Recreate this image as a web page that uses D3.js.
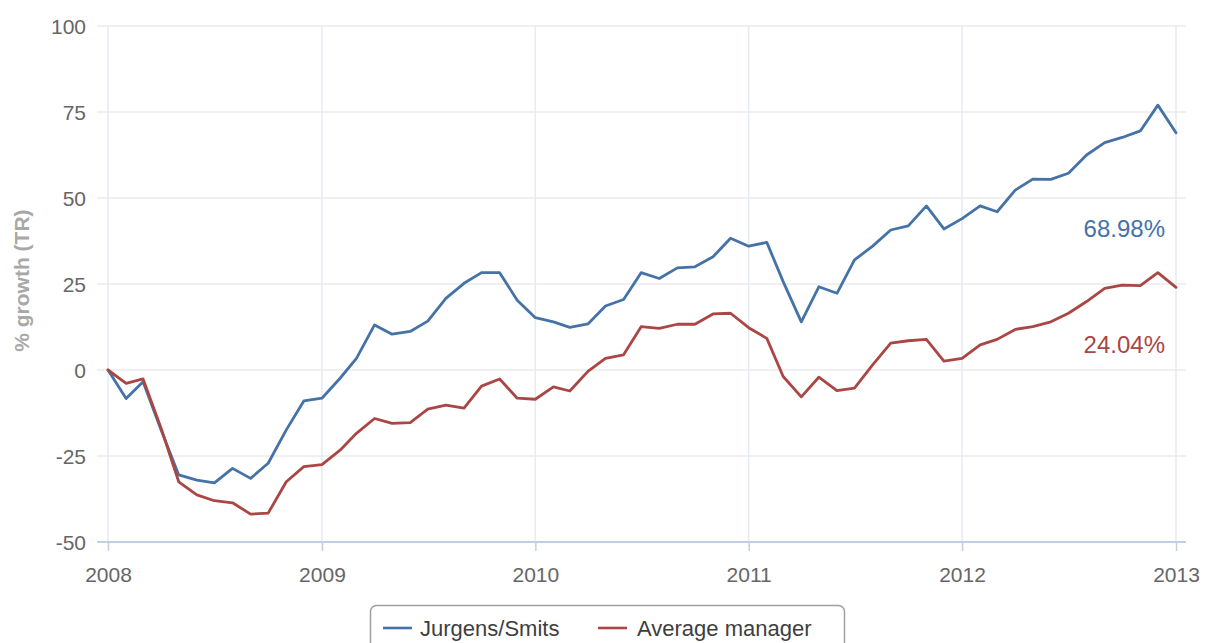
<!DOCTYPE html>
<html>
<head>
<meta charset="utf-8">
<script src="https://cdn.jsdelivr.net/npm/d3@7"></script>
<style>
  html, body { margin: 0; padding: 0; background: #fff; }
  svg { display: block; font-family: "Liberation Sans", Arial, sans-serif; }
</style>
</head>
<body>
<svg id="chart" width="1208" height="643"></svg>
<script>
// ---- data ----
const startYear = 2008;
const seriesNames = ["Jurgens/Smits", "Average manager"];
const seriesColors = ["#4572A7", "#AA4643"];
const jurgensSmits = [0, -8.3, -3.4, -17.5, -30.5, -32, -32.8, -28.6, -31.5, -27.1, -17.4, -9,
  -8.2, -2.4, 3.4, 13.1, 10.4, 11.2, 14.2, 20.8, 25.2, 28.3, 28.3, 20.3,
  15.2, 14, 12.4, 13.4, 18.6, 20.5, 28.3, 26.6, 29.7, 30, 32.9, 38.3,
  36, 37.1, 25.7, 14, 24.2, 22.3, 32, 36, 40.7, 41.9, 47.7, 41,
  44, 47.7, 46, 52.3, 55.5, 55.4, 57.2, 62.5, 66.1, 67.6, 69.5, 77, 68.98];
const averageManager = [0, -3.9, -2.6, -17, -32.5, -36.3, -38, -38.6, -41.9, -41.6, -32.5, -28.1,
  -27.5, -23.3, -18.4, -14.1, -15.5, -15.3, -11.4, -10.2, -11.1, -4.7, -2.6, -8.2,
  -8.5, -4.9, -6.1, -0.4, 3.4, 4.4, 12.6, 12.1, 13.3, 13.3, 16.3, 16.5,
  12.3, 9.2, -1.9, -7.8, -2.1, -6, -5.3, 1.5, 7.8, 8.5, 8.9, 2.6,
  3.4, 7.3, 8.9, 11.8, 12.6, 14, 16.5, 19.9, 23.7, 24.7, 24.5, 28.3, 24.04];
const yTicks = [-50, -25, 0, 25, 50, 75, 100];
const xTickYears = [2008, 2009, 2010, 2011, 2012, 2013];
const endLabels = ["68.98%", "24.04%"];
const endLabelAnchors = [41, 7.5]; // y value where label sits
const yAxisTitle = "% growth (TR)";

// ---- layout ----
const svg = d3.select("#chart");
const plotLeft = 97, plotRight = 1186, plotTop = 26, plotBottom = 542;
const dates = jurgensSmits.map((_, i) => new Date(startYear, i, 1));

const x = d3.scaleTime()
  .domain([new Date(2008, 0, 1), new Date(2013, 0, 1)])
  .range([108, 1176]);
const y = d3.scaleLinear().domain([-50, 100]).range([plotBottom, plotTop]);

// horizontal grid
svg.append("g")
  .selectAll("line").data(yTicks.filter(t => t !== -50)).join("line")
  .attr("x1", plotLeft).attr("x2", plotRight)
  .attr("y1", d => y(d)).attr("y2", d => y(d))
  .attr("stroke", "#ebebeb").attr("stroke-width", 1.5);

// vertical grid
svg.append("g")
  .selectAll("line").data(xTickYears).join("line")
  .attr("x1", d => x(new Date(d, 0, 1))).attr("x2", d => x(new Date(d, 0, 1)))
  .attr("y1", plotTop).attr("y2", plotBottom)
  .attr("stroke", "#e6ebf2").attr("stroke-width", 1.5);

// y axis (labels only)
const yAxis = svg.append("g")
  .attr("transform", `translate(86,0)`)
  .call(d3.axisLeft(y).tickValues(yTicks).tickSize(0).tickPadding(0).tickFormat(d => String(d)));
yAxis.select(".domain").remove();
yAxis.selectAll("text")
  .attr("fill", "#666").attr("font-size", "21px").attr("dy", "0.35em");

// x axis
const xAxis = svg.append("g")
  .attr("transform", `translate(0,${plotBottom})`)
  .call(d3.axisBottom(x).tickValues(xTickYears.map(yy => new Date(yy, 0, 1)))
    .tickSize(9).tickPadding(16).tickFormat(d3.timeFormat("%Y")));
xAxis.select(".domain").remove();
xAxis.selectAll(".tick line").attr("stroke", "#c0d0e0").attr("stroke-width", 1.5);
xAxis.selectAll("text").attr("fill", "#666").attr("font-size", "21px");
svg.append("line")
  .attr("x1", plotLeft).attr("x2", plotRight)
  .attr("y1", plotBottom).attr("y2", plotBottom)
  .attr("stroke", "#c0d0e0").attr("stroke-width", 2);

// y axis title
svg.append("text")
  .attr("transform", `translate(29,${y(26)}) rotate(-90)`)
  .attr("text-anchor", "middle")
  .attr("fill", "#a8a8a8").attr("font-size", "21px").attr("font-weight", "bold")
  .text(yAxisTitle);

// lines
const line = d3.line().x((d, i) => x(dates[i])).y(d => y(d));
[jurgensSmits, averageManager].forEach((s, k) => {
  svg.append("path").datum(s)
    .attr("d", line)
    .attr("fill", "none")
    .attr("stroke", seriesColors[k])
    .attr("stroke-width", 2.8)
    .attr("stroke-linejoin", "round")
    .attr("stroke-linecap", "round");
});

// end labels
endLabels.forEach((t, k) => {
  svg.append("text")
    .attr("x", x(dates[dates.length - 1]) - 11)
    .attr("y", y(endLabelAnchors[k]))
    .attr("dy", "0.35em")
    .attr("text-anchor", "end")
    .attr("fill", seriesColors[k])
    .attr("font-size", "24px")
    .text(t);
});

// legend
const lg = svg.append("g");
lg.append("rect")
  .attr("x", 370.5).attr("y", 605.5).attr("width", 474).attr("height", 60)
  .attr("rx", 6).attr("fill", "#fff").attr("stroke", "#a0a0a0").attr("stroke-width", 1.5);
const legendItems = [{sx: 383, tx: 420}, {sx: 598, tx: 637}];
legendItems.forEach((p, k) => {
  lg.append("line")
    .attr("x1", p.sx).attr("x2", p.sx + 29)
    .attr("y1", 628).attr("y2", 628)
    .attr("stroke", seriesColors[k]).attr("stroke-width", 2.6);
  lg.append("text")
    .attr("x", p.tx).attr("y", 628).attr("dy", "0.36em")
    .attr("fill", "#3e3e3e").attr("font-size", "22px")
    .text(seriesNames[k]);
});
</script>
</body>
</html>
